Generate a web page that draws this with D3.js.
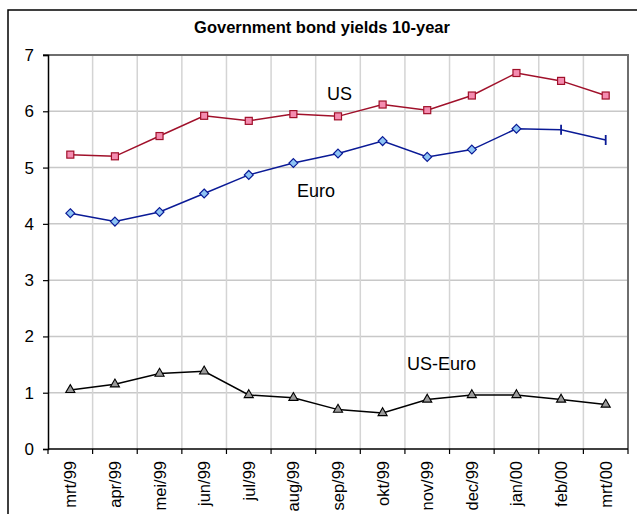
<!DOCTYPE html>
<html>
<head>
<meta charset="utf-8">
<script src="https://cdn.jsdelivr.net/npm/d3@7"></script>
<style>
  body { margin: 0; background: #fff; }
  svg { font-family: Arial, "Liberation Sans", sans-serif; }
</style>
</head>
<body>
<div id="chart"></div>
<script>
// data
var months = ["mrt/99", "apr/99", "mei/99", "jun/99", "jul/99", "aug/99", "sep/99",
              "okt/99", "nov/99", "dec/99", "jan/00", "feb/00", "mrt/00"];
var us     = [5.23, 5.20, 5.56, 5.92, 5.83, 5.95, 5.91, 6.12, 6.02, 6.28, 6.68, 6.54, 6.28];
var euro   = [4.19, 4.04, 4.21, 4.54, 4.87, 5.08, 5.25, 5.47, 5.19, 5.32, 5.69, 5.67, 5.49];
var spread = [1.05, 1.15, 1.34, 1.38, 0.96, 0.91, 0.70, 0.64, 0.88, 0.96, 0.96, 0.88, 0.79];
var yTicks = [0, 1, 2, 3, 4, 5, 6, 7];

var W = 637, H = 514;
var margin = {top: 55, right: 9, bottom: 65, left: 48},
    width = W - margin.left - margin.right,
    height = H - margin.top - margin.bottom;

var svg = d3.select("#chart").append("svg")
    .attr("width", W)
    .attr("height", H);

// outer frame
svg.append("path")
    .attr("d", "M8," + H + "V10H" + W)
    .attr("fill", "none")
    .attr("stroke", "#000")
    .attr("stroke-width", 1.5);

svg.append("text")
    .attr("x", 322)
    .attr("y", 33)
    .attr("text-anchor", "middle")
    .attr("font-size", "16.5px")
    .attr("font-weight", "bold")
    .text("Government bond yields 10-year");

var g = svg.append("g")
    .attr("transform", "translate(" + margin.left + "," + margin.top + ")");

var x = d3.scaleBand().domain(months).range([0, width]);
var y = d3.scaleLinear().domain([0, 7]).range([height, 0]);
var cx = function(d, i) { return x(months[i]) + x.bandwidth() / 2; };

// gridlines
g.append("g").selectAll("line")
  .data(yTicks.slice(1, -1))
  .join("line")
    .attr("x1", 0).attr("x2", width)
    .attr("y1", function(d) { return y(d); })
    .attr("y2", function(d) { return y(d); })
    .attr("stroke", "#c8c8c8")
    .attr("stroke-width", 1.5);

g.append("g").selectAll("line")
  .data(months.slice(1))
  .join("line")
    .attr("x1", function(d) { return x(d); })
    .attr("x2", function(d) { return x(d); })
    .attr("y1", 0).attr("y2", height)
    .attr("stroke", "#d4d4d4")
    .attr("stroke-width", 1.5);

// plot area top/right border
g.append("path")
    .attr("d", "M-5,0H" + width + "V" + height)
    .attr("fill", "none")
    .attr("stroke", "#6e6e6e")
    .attr("stroke-width", 2);

// y axis
var yAxis = g.append("g")
    .call(d3.axisLeft(y).tickValues(yTicks).tickSize(5).tickPadding(9).tickFormat(d3.format("d")));
yAxis.select(".domain").attr("stroke", "#000").attr("stroke-width", 1.5);
yAxis.selectAll(".tick line").attr("stroke", "#000").attr("stroke-width", 1.2);
yAxis.selectAll("text").attr("font-size", "17px").attr("fill", "#000")
    .attr("font-family", "Arial, 'Liberation Sans', sans-serif");

// x axis: ticks at category boundaries
var xAxis = g.append("g")
    .attr("transform", "translate(0," + height + ")");
xAxis.append("line")
    .attr("x1", 0).attr("x2", width)
    .attr("stroke", "#000").attr("stroke-width", 1.5);
xAxis.selectAll(".bt")
  .data(months.concat(["end"]))
  .join("line")
    .attr("class", "bt")
    .attr("x1", function(d, i) { return i < months.length ? x(d) : width; })
    .attr("x2", function(d, i) { return i < months.length ? x(d) : width; })
    .attr("y1", 0).attr("y2", 5)
    .attr("stroke", "#000").attr("stroke-width", 1.2);
xAxis.selectAll(".lbl")
  .data(months)
  .join("text")
    .attr("class", "lbl")
    .attr("transform", function(d, i) {
      return "translate(" + (cx(d, i) + 6) + ",12) rotate(-90)";
    })
    .attr("text-anchor", "end")
    .attr("font-size", "16.5px")
    .text(function(d) { return d; });

// series
var line = d3.line()
    .x(function(d, i) { return cx(d, i); })
    .y(function(d) { return y(d); });

function drawLine(data, color) {
  g.append("path")
    .datum(data)
    .attr("fill", "none")
    .attr("stroke", color)
    .attr("stroke-width", 1.5)
    .attr("d", line);
}

drawLine(us, "#a0102a");
drawLine(euro, "#0a1a96");
drawLine(spread, "#000");

// US markers: squares
g.append("g").selectAll("rect")
  .data(us)
  .join("rect")
    .attr("x", function(d, i) { return cx(d, i) - 3.5; })
    .attr("y", function(d) { return y(d) - 3.5; })
    .attr("width", 7).attr("height", 7)
    .attr("fill", "#f48cb0")
    .attr("stroke", "#a0102a")
    .attr("stroke-width", 1.2);

// Euro markers: diamonds, last two drawn as short bars
var diamond = d3.symbol().type(d3.symbolDiamond2).size(50);
g.append("g").selectAll("path")
  .data(euro)
  .join("path")
    .attr("transform", function(d, i) { return "translate(" + cx(d, i) + "," + y(d) + ")"; })
    .attr("d", function(d, i) { return i >= 11 ? "M0,-5V5" : diamond(); })
    .attr("fill", "#8ec4f4")
    .attr("stroke", "#0a1a96")
    .attr("stroke-width", function(d, i) { return i >= 11 ? 1.8 : 1.2; });

// spread markers: triangles
var tri = d3.symbol().type(d3.symbolTriangle).size(36);
g.append("g").selectAll("path")
  .data(spread)
  .join("path")
    .attr("transform", function(d, i) { return "translate(" + cx(d, i) + "," + y(d) + ")"; })
    .attr("d", tri)
    .attr("fill", "#9a9a9a")
    .attr("stroke", "#000")
    .attr("stroke-width", 1.1);

// series labels
var labels = [
  {t: "US", x: 327, y: 100},
  {t: "Euro", x: 297, y: 197},
  {t: "US-Euro", x: 407, y: 370}
];
svg.append("g").selectAll("text")
  .data(labels)
  .join("text")
    .attr("x", function(d) { return d.x; })
    .attr("y", function(d) { return d.y; })
    .attr("font-size", "18px")
    .text(function(d) { return d.t; });
</script>
</body>
</html>
